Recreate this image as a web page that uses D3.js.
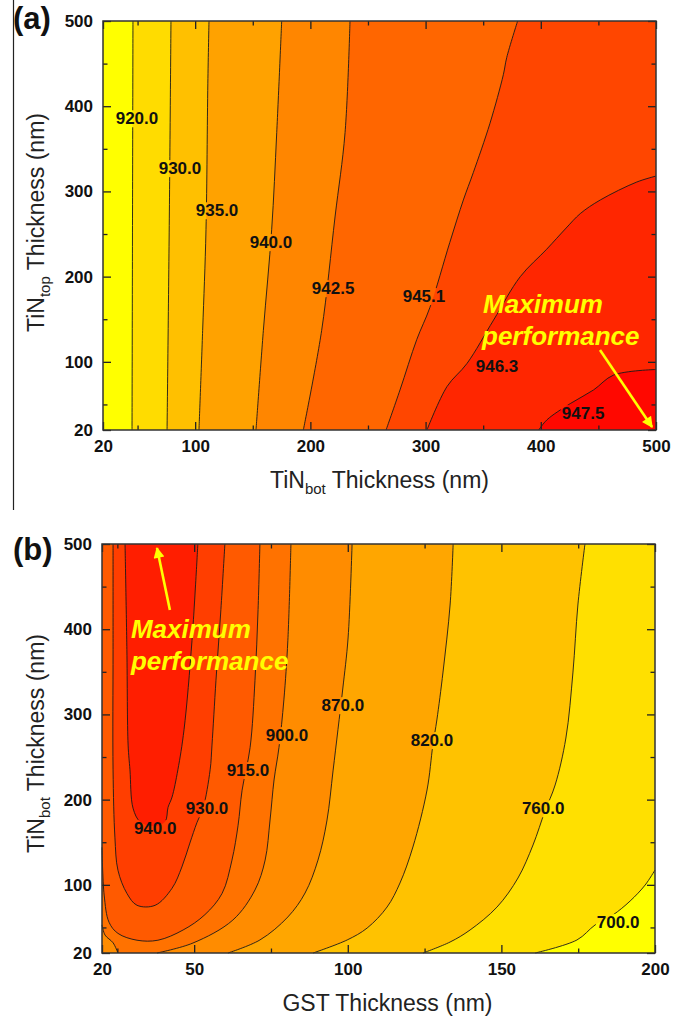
<!DOCTYPE html>
<html>
<head>
<meta charset="utf-8">
<script src="https://cdn.jsdelivr.net/npm/d3@7/dist/d3.min.js"></script>
<style>
  html, body { margin: 0; padding: 0; background: #fff; }
  svg { display: block; font-family: "Liberation Sans", Arial, sans-serif; }
</style>
</head>
<body>
<div id="chart"></div>
<script>
// ---------- panel (a): TiN_top vs TiN_bot ----------
const xTicksA = [20, 100, 200, 300, 400, 500];
const xMinorA = [50, 150, 250, 350, 450];
const yTicks = [20, 100, 200, 300, 400, 500];
const yMinor = [50, 150, 250, 350, 450];

const levelsA = [920, 930, 935, 940, 942.5, 945.1, 946.3, 947.5];
const colorsA = ['#ffff00', '#ffdc00', '#ffc000', '#ffa200', '#ff8600', '#ff6600', '#ff4600', '#ff2600', '#ff0800'];

// contour lines, [TiN_bot, TiN_top] in nm
const line920A = [[46.0, 500], [45.6, 260], [45.2, 20]];
const line930A = [[79, 500], [77.5, 260], [75.6, 20]];
const line935A = [[112, 500], [111, 427], [109.4, 255], [106.5, 137], [103.3, 20]];
const line940A = [[175.1, 500], [170.8, 369], [166.4, 255], [159.2, 137], [152.8, 20]];
const line942A = [[234.4, 500], [230.1, 369], [221.4, 270], [209.8, 137], [193.9, 20]];
const line945A = [[379.9, 500], [370.4, 457], [367.5, 437], [355.9, 380], [341.4, 322], [332.8, 290],
                  [321, 240], [303.8, 164], [292.3, 126], [277.8, 67], [265.7, 20]];
const line946A = [[500, 318], [483.3, 311], [451.7, 290], [434.3, 274], [422, 257], [405, 232],
                  [382.2, 200], [359, 149], [335.9, 98], [318.6, 71], [301.2, 20]];
const line947A = [[500, 91], [463.2, 84.5], [445.8, 67], [425.6, 51], [405.4, 32], [398.2, 20]];
const contoursA = [[line920A], [line930A], [line935A], [line940A], [line942A], [line945A], [line946A], [line947A]];
const labelPosA = [[49.5, 386], [86.8, 327.5], [119, 278], [165.8, 240.6], [219.7, 186.6],
                   [298.6, 177.3], [362, 95], [436.7, 40]];

// ---------- panel (b): TiN_bot vs GST ----------
const xTicksB = [20, 50, 100, 150, 200];
const xMinorB = [25, 75, 125, 175];

const levelsB = [700, 760, 820, 870, 900, 915, 930, 940];
const colorsB = ['#ffff00', '#ffe000', '#ffc200', '#ffa600', '#ff8c00', '#ff7200', '#ff5a00', '#ff3e00', '#ff1e00'];

// [GST, TiN_bot] in nm
const line700B = [[161, 20], [174.6, 35.3], [180.5, 52.9], [186.3, 64.6], [191.9, 81], [196.8, 99.8], [200, 117.4]];
const line760B = [[124.5, 20], [133.3, 32.9], [139.8, 47], [148.6, 74], [155.4, 108], [160.3, 146.8], [164.2, 186.7],
                  [167.5, 217.2], [171, 272.3], [173.3, 349.7], [174.9, 428.4], [177.2, 500]];
const line820B = [[88.7, 20], [99.8, 35.3], [106.3, 49.3], [112.8, 74], [117, 102.2], [121.2, 144.4], [125.8, 211.3],
                  [127.7, 264], [129, 293.5], [131, 349.7], [133.3, 428.4], [134.3, 500]];
const line870B = [[61, 20], [71.4, 35.3], [80.5, 62.3], [86.1, 90.4], [90.3, 129], [93.2, 175], [95.2, 233.6],
                  [96.8, 282], [98.4, 331], [100.1, 389.7], [101.4, 500]];
const line900cornerB = [[20, 53], [21, 41], [23.6, 32], [25.2, 20]];
const line900B = [[37.9, 20], [49.6, 31.7], [62.6, 58.7], [69.8, 94], [73.1, 129], [74.7, 176], [76, 223],
                  [77.6, 261], [79.2, 317], [80.5, 387], [81.5, 500]];
const line915B = [[20, 144], [20.7, 88], [22.3, 56], [25.2, 43], [31.4, 35], [38.2, 35], [46.4, 47], [53.5, 65],
                  [59.1, 90], [62.3, 129], [64.3, 170], [65.6, 211], [68.2, 261], [69.8, 340], [70.8, 423], [71.4, 500]];
const line930B = [[23.6, 500], [23.6, 376], [23.6, 235], [24.2, 156], [25.2, 117], [28.1, 90], [31.4, 76], [37.3, 76],
                  [42.8, 96], [46, 121], [48.6, 149], [50.9, 173], [52.9, 190], [55.2, 235], [55.8, 264],
                  [57.1, 340], [58.7, 423], [60, 500]];
const line940B = [[27.5, 500], [28.1, 376], [28.5, 264], [29.1, 235], [30.1, 190], [32.4, 174], [36.6, 169],
                  [40.5, 174], [41.5, 191], [42.8, 203], [44.7, 235], [46.7, 282], [49.3, 387], [51.2, 500]];
const contoursB = [[line700B], [line760B], [line820B], [line870B], [line900cornerB, line900B], [line915B], [line930B], [line940B]];
const labelPosB = [[188, 56.4], [163.6, 190], [127.4, 270], [98.4, 311], [80.2, 275.8], [67.5, 234.8],
                   [54.2, 190], [37.3, 166.7]];

const svg = d3.select('#chart').append('svg')
  .attr('width', 685)
  .attr('height', 1017);
const defs = svg.append('defs');

defs.append('marker')
  .attr('id', 'arrow')
  .attr('viewBox', '0 0 10 10')
  .attr('refX', 9).attr('refY', 5)
  .attr('markerUnits', 'userSpaceOnUse')
  .attr('markerWidth', 13).attr('markerHeight', 11)
  .attr('orient', 'auto')
  .append('path')
  .attr('d', 'M0,0 L10,5 L0,10 z')
  .attr('fill', '#ffff00');

// thin frame line on the left of panel (a)
svg.append('line')
  .attr('x1', 13.5).attr('x2', 13.5).attr('y1', 0).attr('y2', 510)
  .attr('stroke', '#222').attr('stroke-width', 1.2);

drawPanel({
  id: 'a', left: 103, right: 656, top: 21, bottom: 430,
  xDomain: [20, 500], yDomain: [20, 500],
  xTicks: xTicksA, xMinor: xMinorA, yTicks: yTicks, yMinor: yMinor,
  levels: levelsA, colors: colorsA, contours: contoursA, labelPos: labelPosA,
  tag: '(a)', tagY: 29,
  xTitle: ['TiN', 'bot', ' Thickness (nm)'], xTitleShift: 0,
  yTitle: ['TiN', 'top', ' Thickness (nm)'], yTitleShift: -3,
  note: [[349.9, 157.3], [349, 119.8]], arrow: [[451.4, 113.9], [496.6, 23.5]]
});

drawPanel({
  id: 'b', left: 102, right: 655, top: 544, bottom: 953,
  xDomain: [20, 200], yDomain: [20, 500],
  xTicks: xTicksB, xMinor: xMinorB, yTicks: yTicks, yMinor: yMinor,
  levels: levelsB, colors: colorsB, contours: contoursB, labelPos: labelPosB,
  tag: '(b)', tagY: 560,
  xTitle: ['GST Thickness (nm)', '', ''], xTitleShift: 9,
  yTitle: ['TiN', 'bot', ' Thickness (nm)'], yTitleShift: -5,
  note: [[29.4, 389.7], [29.4, 352.2]], arrow: [[42.1, 422.6], [37.9, 495.3]]
});

function drawPanel(p) {
  const x = d3.scaleLinear().domain(p.xDomain).range([p.left, p.right]);
  const y = d3.scaleLinear().domain(p.yDomain).range([p.bottom, p.top]);
  const [x0, x1] = p.xDomain;
  const [y0, y1] = p.yDomain;
  const W = x1 - x0, H = y1 - y0, P = 2 * (W + H);

  // position along the plot border, counter-clockwise from bottom-left
  const along = ([a, b]) => {
    if (b === y0) return a - x0;
    if (a === x1) return W + (b - y0);
    if (b === y1) return W + H + (x1 - a);
    return 2 * W + H + (y1 - b);
  };
  const corners = [[x1, y0], [x1, y1], [x0, y1], [x0, y0]].map(c => ({c, t: along(c)}));
  const ccw = (from, to) => ((to - from) % P + P) % P;

  const curve = d3.line().x(d => x(d[0])).y(d => y(d[1])).curve(d3.curveCatmullRom.alpha(0.5));

  // region above a level: line pieces joined along the border
  function regionPath(pieces) {
    const used = new Set();
    let d = '';
    pieces.forEach((_, i) => {
      if (used.has(i)) return;
      let cur = i, first = true;
      while (!used.has(cur)) {
        used.add(cur);
        const seg = curve(pieces[cur]);
        d += first ? seg : 'L' + seg.slice(1);
        first = false;
        const tEnd = along(pieces[cur][pieces[cur].length - 1]);
        let next = cur, best = Infinity;
        pieces.forEach((pc, j) => {
          const dist = ccw(tEnd, along(pc[0]));
          if (dist < best) { best = dist; next = j; }
        });
        corners
          .map(k => ({c: k.c, dist: ccw(tEnd, k.t)}))
          .filter(k => k.dist > 0 && k.dist < best)
          .sort((m, n) => m.dist - n.dist)
          .forEach(k => { d += `L${x(k.c[0])},${y(k.c[1])}`; });
        cur = next;
      }
      d += 'Z';
    });
    return d;
  }

  const g = svg.append('g');

  g.append('rect')
    .attr('x', p.left).attr('y', p.top)
    .attr('width', p.right - p.left).attr('height', p.bottom - p.top)
    .attr('fill', p.colors[0]);

  g.append('g')
    .selectAll('path')
    .data(p.contours)
    .join('path')
    .attr('d', pieces => regionPath(pieces))
    .attr('fill', (_, i) => p.colors[i + 1]);

  // mask so the contour lines break around their labels
  const mask = defs.append('mask')
    .attr('id', 'mask-' + p.id)
    .attr('maskUnits', 'userSpaceOnUse')
    .attr('x', 0).attr('y', 0).attr('width', 685).attr('height', 1017);
  mask.append('rect').attr('width', 685).attr('height', 1017).attr('fill', '#fff');

  g.append('g')
    .attr('mask', `url(#mask-${p.id})`)
    .selectAll('path')
    .data(p.contours.flat())
    .join('path')
    .attr('d', pts => curve(pts))
    .attr('fill', 'none')
    .attr('stroke', '#1a1a1a')
    .attr('stroke-width', 0.9);

  const labels = g.append('g')
    .selectAll('text')
    .data(p.levels)
    .join('text')
    .attr('x', (_, i) => x(p.labelPos[i][0]))
    .attr('y', (_, i) => y(p.labelPos[i][1]))
    .attr('text-anchor', 'middle')
    .attr('dy', '0.36em')
    .attr('font-size', 17)
    .attr('font-weight', 'bold')
    .attr('fill', '#111')
    .text(d => d3.format('.1f')(d));

  labels.each(function () {
    const b = this.getBBox();
    mask.append('rect')
      .attr('x', b.x - 1).attr('y', b.y + 1)
      .attr('width', b.width + 2).attr('height', b.height - 2)
      .attr('fill', '#000');
  });

  // annotation
  g.append('line')
    .attr('x1', x(p.arrow[0][0])).attr('y1', y(p.arrow[0][1]))
    .attr('x2', x(p.arrow[1][0])).attr('y2', y(p.arrow[1][1]))
    .attr('stroke', '#ffff00')
    .attr('stroke-width', 2.6)
    .attr('marker-end', 'url(#arrow)');

  g.append('g')
    .selectAll('text')
    .data(['Maximum', 'performance'])
    .join('text')
    .attr('x', (_, i) => x(p.note[i][0]))
    .attr('y', (_, i) => y(p.note[i][1]))
    .attr('font-size', 26)
    .attr('font-weight', 'bold')
    .attr('font-style', 'italic')
    .attr('fill', '#ffff00')
    .text(d => d);

  // axes, ticks pointing inwards
  const styleAxis = sel => {
    sel.select('.domain').remove();
    sel.selectAll('line').attr('stroke', '#222').attr('stroke-width', 1.3);
    sel.selectAll('text')
      .style('font-size', '17px')
      .style('font-weight', 'bold')
      .style('font-family', '"Liberation Sans", Arial, sans-serif')
      .attr('fill', '#111');
  };
  const noLabel = () => '';

  g.append('g').attr('transform', `translate(0,${p.bottom})`)
    .call(d3.axisBottom(x).tickValues(p.xTicks).tickSize(-8).tickPadding(10).tickFormat(d3.format('d')))
    .call(styleAxis);
  g.append('g').attr('transform', `translate(0,${p.bottom})`)
    .call(d3.axisBottom(x).tickValues(p.xMinor).tickSize(-4.5).tickFormat(noLabel))
    .call(styleAxis);
  g.append('g').attr('transform', `translate(0,${p.top})`)
    .call(d3.axisTop(x).tickValues(p.xTicks).tickSize(-8).tickFormat(noLabel))
    .call(styleAxis);
  g.append('g').attr('transform', `translate(0,${p.top})`)
    .call(d3.axisTop(x).tickValues(p.xMinor).tickSize(-4.5).tickFormat(noLabel))
    .call(styleAxis);

  g.append('g').attr('transform', `translate(${p.left},0)`)
    .call(d3.axisLeft(y).tickValues(p.yTicks).tickSize(-8).tickPadding(10).tickFormat(d3.format('d')))
    .call(styleAxis);
  g.append('g').attr('transform', `translate(${p.left},0)`)
    .call(d3.axisLeft(y).tickValues(p.yMinor).tickSize(-4.5).tickFormat(noLabel))
    .call(styleAxis);
  g.append('g').attr('transform', `translate(${p.right},0)`)
    .call(d3.axisRight(y).tickValues(p.yTicks).tickSize(-8).tickFormat(noLabel))
    .call(styleAxis);
  g.append('g').attr('transform', `translate(${p.right},0)`)
    .call(d3.axisRight(y).tickValues(p.yMinor).tickSize(-4.5).tickFormat(noLabel))
    .call(styleAxis);

  g.append('rect')
    .attr('x', p.left).attr('y', p.top)
    .attr('width', p.right - p.left).attr('height', p.bottom - p.top)
    .attr('fill', 'none')
    .attr('stroke', '#333')
    .attr('stroke-width', 1.5);

  // axis titles
  const title = (sel, parts) => {
    sel.append('tspan').text(parts[0]);
    if (parts[1]) {
      sel.append('tspan').attr('font-size', 15).attr('dy', 6).text(parts[1]);
      sel.append('tspan').attr('font-size', 23).attr('dy', -6).text(parts[2]);
    }
  };

  g.append('text')
    .attr('x', (p.left + p.right) / 2 + p.xTitleShift)
    .attr('y', p.bottom + 58)
    .attr('text-anchor', 'middle')
    .attr('font-size', 23)
    .attr('fill', '#222')
    .call(title, p.xTitle);

  g.append('text')
    .attr('transform', `translate(44,${(p.top + p.bottom) / 2 + p.yTitleShift}) rotate(-90)`)
    .attr('text-anchor', 'middle')
    .attr('font-size', 23)
    .attr('fill', '#222')
    .call(title, p.yTitle);

  g.append('text')
    .attr('x', 13)
    .attr('y', p.tagY)
    .attr('font-size', 31)
    .attr('font-weight', 'bold')
    .attr('fill', '#111')
    .text(p.tag);
}
</script>
</body>
</html>
